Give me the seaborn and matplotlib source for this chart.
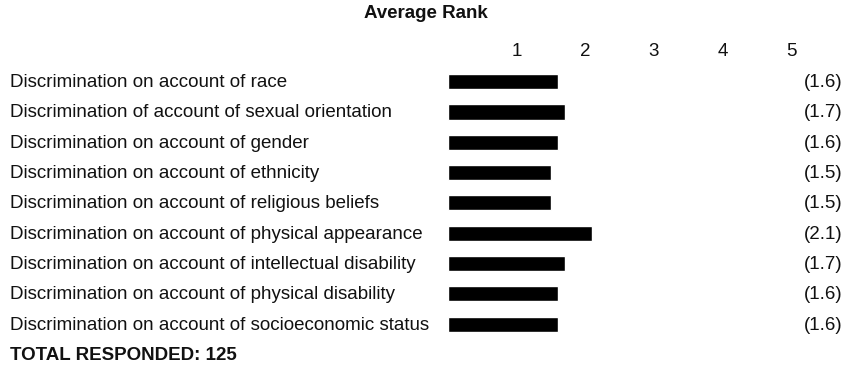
import matplotlib
matplotlib.use("Agg")
import matplotlib.pyplot as plt
import matplotlib.transforms as mtransforms
import seaborn as sns
import pandas as pd

# Survey items and their average rank
categories = [
    "Discrimination on account of race",
    "Discrimination of account of sexual orientation",
    "Discrimination on account of gender",
    "Discrimination on account of ethnicity",
    "Discrimination on account of religious beliefs",
    "Discrimination on account of physical appearance",
    "Discrimination on account of intellectual disability",
    "Discrimination on account of physical disability",
    "Discrimination on account of socioeconomic status",
]
avg_rank = [1.6, 1.7, 1.6, 1.5, 1.5, 2.1, 1.7, 1.6, 1.6]
rank_ticks = [1, 2, 3, 4, 5]
title = "Average Rank"
footer = "TOTAL RESPONDED: 125"

sns.set_theme(style="white")
plt.rcParams["font.family"] = ["Liberation Sans", "DejaVu Sans"]
TXT = "#111111"
FS = 13.5

W, H = 846, 368
fig = plt.figure(figsize=(W / 100, H / 100), dpi=100)
fig.patch.set_facecolor("white")

# plot area: value 0 at x=448px, one rank unit = 68.6px
x0_px, unit_px = 448, 68.6
row_top, row_step = 81.7, 30.3
top_px = row_top - row_step / 2
bot_px = row_top + row_step * (len(categories) - 0.5)
ax = fig.add_axes([x0_px / W, 1 - bot_px / H, (W - x0_px) / W, (bot_px - top_px) / H])

df = pd.DataFrame({"item": categories, "rank": avg_rank})
sns.barplot(data=df, x="rank", y="item", orient="h", color="black",
            width=0.5, ax=ax, saturation=1)

ax.set_xlim(0, (W - x0_px) / unit_px)
ax.set_ylim(len(categories) - 0.5, -0.5)
ax.set_xlabel("")
ax.set_ylabel("")
ax.set_yticks([])
for s in ax.spines.values():
    s.set_visible(False)

ax.xaxis.tick_top()
ax.set_xticks(rank_ticks)
ax.set_xticklabels([str(t) for t in rank_ticks])
ax.tick_params(axis="x", length=0, pad=5, labelsize=FS, labelcolor=TXT)

# row labels on the left and value labels on the right
lab_tr = mtransforms.blended_transform_factory(fig.transFigure, ax.transData)
val_tr = mtransforms.blended_transform_factory(ax.transAxes, ax.transData)
for i, (name, v) in enumerate(zip(categories, avg_rank)):
    fig.text(10 / W, i + 0.03, name, transform=lab_tr, ha="left", va="center",
             fontsize=FS, color=TXT)
    ax.text(0.992, i + 0.03, f"({v:.1f})", transform=val_tr, ha="right", va="center",
            fontsize=FS, color=TXT)

fig.text(488 / W, 1 - 13.5 / H, title, ha="right", va="center",
         fontsize=FS, fontweight="bold", color=TXT)
fig.text(10 / W, 1 - 356 / H, footer, ha="left", va="center",
         fontsize=FS, fontweight="bold", color=TXT)

fig.savefig("out.png", dpi=100, facecolor="white")
